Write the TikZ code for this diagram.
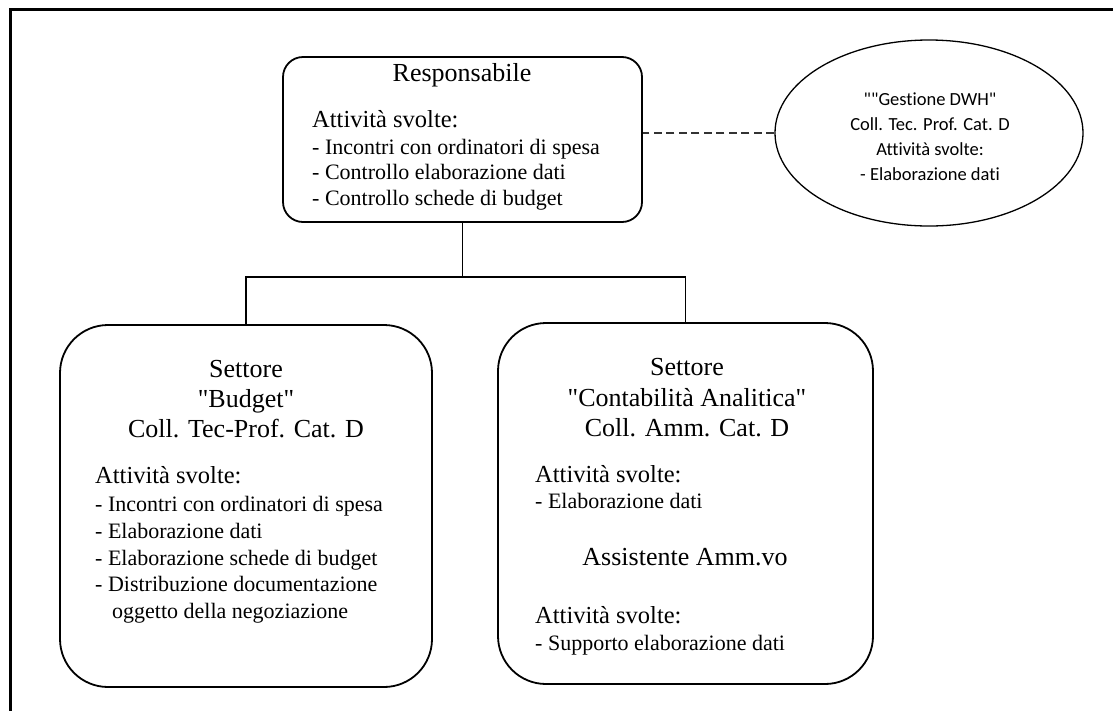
\documentclass[tikz,border=0pt]{standalone}
\usepackage{fontspec}
\setmainfont{Liberation Serif}
\newfontfamily\calib{Carlito}[Ligatures=CommonOff]
\usetikzlibrary{shapes.geometric}

\tikzset{
  unitbox/.style={draw, line width=1.8pt, rounded corners=#1, inner sep=0pt},
  head/.style={anchor=base, inner sep=0pt, font=\fontsize{26}{30}\selectfont},
  item/.style={anchor=base west, inner sep=0pt, font=\fontsize{22}{25}\selectfont},
  label/.style={anchor=base west, inner sep=0pt, font=\fontsize{24.5}{28}\selectfont},
  ovaltext/.style={anchor=base, inner sep=0pt, font=\calib\fontsize{18.5}{25}\selectfont},
  link/.style={line width=1.6pt},
  dotlink/.style={line width=2.8pt, black!80, dash pattern=on 8pt off 4.5pt},
}

\begin{document}
\begin{tikzpicture}[x=1pt, y=-1pt]
\useasboundingbox (0,0) rectangle (1113,710);

% outer frame
\draw[line width=3pt] (10.8,712) -- (10.8,9.6) -- (1116,9.6);

% boxes
\node[unitbox=20pt, minimum width=359pt, minimum height=165pt] (resp) at (462.5,139.5) {};
\node[unitbox=48pt, minimum width=372pt, minimum height=362pt] (budget) at (246,506) {};
\node[unitbox=48pt, minimum width=375pt, minimum height=361pt] (conta) at (685.5,503.5) {};
\node[draw, ellipse, line width=1.3pt, minimum width=308pt, minimum height=186pt, inner sep=0pt] (dwh) at (929,133) {};

% connectors
\coordinate (bus) at (462.5,277);
\draw[link] (resp.south) -- (bus);
\draw[link] (bus) -| (budget.north);
\draw[link] (bus) -| (conta.north);
\draw[dotlink] (dwh.west) -- (dwh.west -| resp.east);

% Responsabile
\node[head] (r0) at (462,81) {Responsabile};
\node[label] (r1) at (312,127) {Attività svolte:};
\node[item] (r2) at (312,154) {- Incontri con ordinatori di spesa};
\node[item] (r3) at (312,179) {- Controllo elaborazione dati};
\node[item] (r4) at (312,205) {- Controllo schede di budget};

% Gestione DWH
\node[ovaltext] (d1) at (930,105) {""Gestione DWH"};
\node[ovaltext] (d2) at (930,130) {Coll. Tec. Prof. Cat. D};
\node[ovaltext] (d3) at (930,155) {Attività svolte:};
\node[ovaltext] (d4) at (930,180) {- Elaborazione dati};

% Settore Budget
\node[head] (b0) at (246,377) {Settore};
\node[head] (b1) at (246,407) {\textquotedbl Budget\textquotedbl};
\node[head] (b2) at (246,437) {Coll. Tec-Prof. Cat. D};
\node[label] (b3) at (95,483) {Attività svolte:};
\node[item] (b4) at (95,511) {- Incontri con ordinatori di spesa};
\node[item] (b5) at (95,538) {- Elaborazione dati};
\node[item] (b6) at (95,565) {- Elaborazione schede di budget};
\node[item] (b7) at (95,591) {- Distribuzione documentazione};
\node[item] (b8) at (112,618) {oggetto della negoziazione};

% Settore Contabilita Analitica
\node[head] (c0) at (687,375) {Settore};
\node[head] (c1) at (687,406) {\textquotedbl Contabilità Analitica\textquotedbl};
\node[head] (c2) at (687,436) {Coll. Amm. Cat. D};
\node[label] (c3) at (535,482) {Attività svolte:};
\node[item] (c4) at (535,508) {- Elaborazione dati};
\node[head] (c5) at (685,565) {Assistente Amm.vo};
\node[label] (c6) at (535,623) {Attività svolte:};
\node[item] (c7) at (535,650) {- Supporto elaborazione dati};
\end{tikzpicture}
\end{document}
